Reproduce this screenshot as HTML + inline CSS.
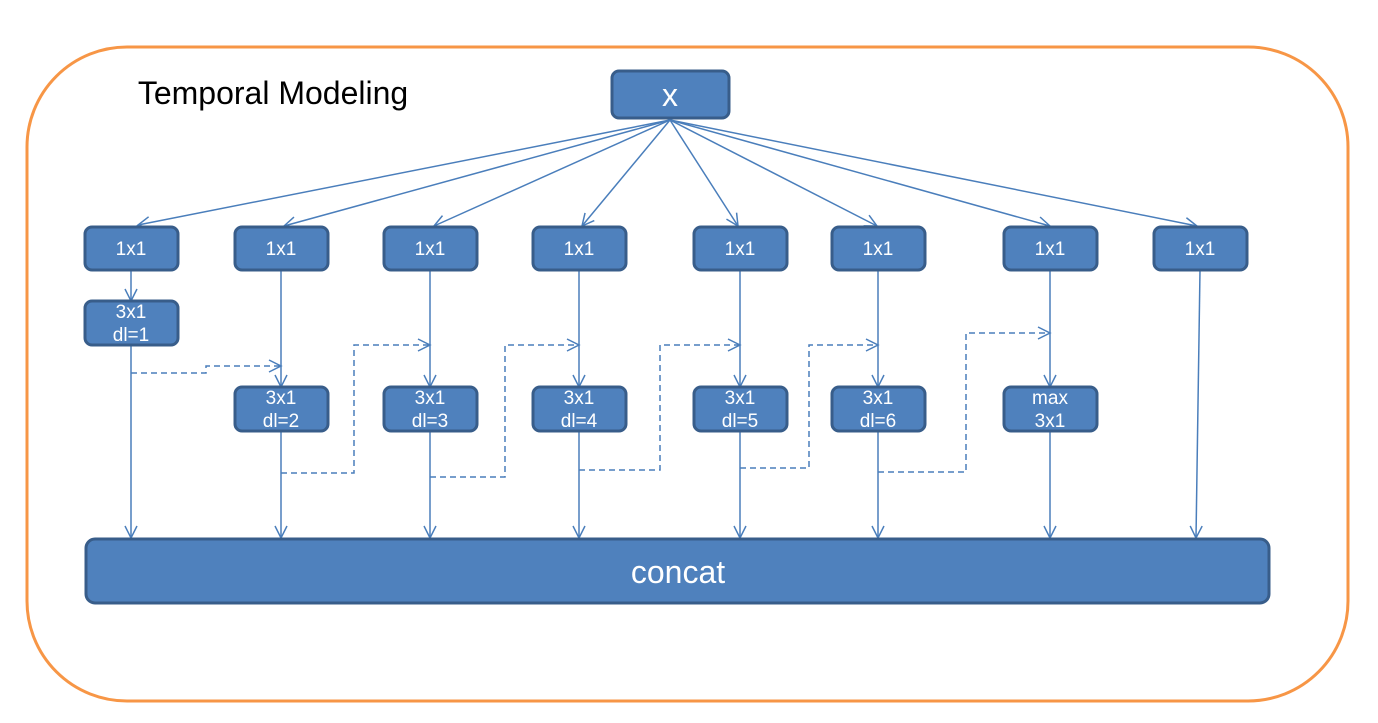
<!DOCTYPE html>
<html><head><meta charset="utf-8"><style>
html,body{margin:0;padding:0;background:#fff;}
svg{display:block;}
text{font-family:"Liberation Sans",sans-serif;fill:#fff;text-anchor:middle;}
</style></head><body>
<svg width="1378" height="723" viewBox="0 0 1378 723" xmlns="http://www.w3.org/2000/svg">
<defs>
<marker id="a" markerWidth="16" markerHeight="16" refX="14" refY="8" orient="auto" markerUnits="userSpaceOnUse">
<polyline points="2,2 14,8 2,14" fill="none" stroke="#4a7ebb" stroke-width="1.5"/>
</marker>
</defs>
<rect x="27" y="47" width="1321" height="654" rx="100" ry="100" fill="#fff" stroke="#f79646" stroke-width="3"/>
<text x="273" y="104" style="fill:#000;font-size:32px">Temporal Modeling</text>

<g stroke="#4a7ebb" stroke-width="1.5" fill="none" marker-end="url(#a)">
<line x1="670" y1="120" x2="138" y2="225"/>
<line x1="670" y1="120" x2="284" y2="226"/>
<line x1="670" y1="120" x2="434" y2="226"/>
<line x1="670" y1="120" x2="582" y2="226"/>
<line x1="670" y1="120" x2="738" y2="226"/>
<line x1="670" y1="120" x2="877" y2="226"/>
<line x1="670" y1="120" x2="1050" y2="226"/>
<line x1="670" y1="120" x2="1197" y2="226"/>

<line x1="131" y1="270" x2="131" y2="301"/>
<line x1="281" y1="270" x2="281" y2="387"/>
<line x1="430" y1="270" x2="430" y2="387"/>
<line x1="579" y1="270" x2="579" y2="387"/>
<line x1="740" y1="270" x2="740" y2="387"/>
<line x1="878" y1="270" x2="878" y2="387"/>
<line x1="1050" y1="270" x2="1050" y2="387"/>

<line x1="131" y1="345" x2="131" y2="538"/>
<line x1="281" y1="431" x2="281" y2="538"/>
<line x1="430" y1="431" x2="430" y2="538"/>
<line x1="579" y1="431" x2="579" y2="538"/>
<line x1="740" y1="431" x2="740" y2="538"/>
<line x1="878" y1="431" x2="878" y2="538"/>
<line x1="1050" y1="431" x2="1050" y2="538"/>
<line x1="1200" y1="270" x2="1196" y2="538"/>
</g>
<g stroke="#4a7ebb" stroke-width="1.5" fill="none" stroke-dasharray="6,4" marker-end="url(#a)">
<polyline points="131,373 206,373 206,366 281,366"/>
<polyline points="281,473 354,473 354,345 430,345"/>
<polyline points="430,477 505,477 505,345 579,345"/>
<polyline points="579,470 660,470 660,345 740,345"/>
<polyline points="740,468 809,468 809,345 878,345"/>
<polyline points="878,472 966,472 966,333 1050,333"/>
</g>

<g fill="#4f81bd" stroke="#385d8a" stroke-width="3">
<rect x="612" y="71" width="117" height="47" rx="7"/>
<rect x="85" y="227" width="93" height="43" rx="7"/>
<rect x="235" y="227" width="93" height="43" rx="7"/>
<rect x="384" y="227" width="93" height="43" rx="7"/>
<rect x="533" y="227" width="93" height="43" rx="7"/>
<rect x="694" y="227" width="93" height="43" rx="7"/>
<rect x="832" y="227" width="93" height="43" rx="7"/>
<rect x="1004" y="227" width="93" height="43" rx="7"/>
<rect x="1154" y="227" width="93" height="43" rx="7"/>
<rect x="85" y="301" width="93" height="44" rx="7"/>
<rect x="235" y="387" width="93" height="44" rx="7"/>
<rect x="384" y="387" width="93" height="44" rx="7"/>
<rect x="533" y="387" width="93" height="44" rx="7"/>
<rect x="694" y="387" width="93" height="44" rx="7"/>
<rect x="832" y="387" width="93" height="44" rx="7"/>
<rect x="1004" y="387" width="93" height="44" rx="7"/>
<rect x="86" y="539" width="1183" height="64" rx="9"/>
</g>

<g style="font-size:19px">
<text x="670" y="106" style="font-size:32px">x</text>
<text x="131" y="255">1x1</text>
<text x="281" y="255">1x1</text>
<text x="430" y="255">1x1</text>
<text x="579" y="255">1x1</text>
<text x="740" y="255">1x1</text>
<text x="878" y="255">1x1</text>
<text x="1050" y="255">1x1</text>
<text x="1200" y="255">1x1</text>
<text x="131" y="318">3x1</text><text x="131" y="341">dl=1</text>
<text x="281" y="404">3x1</text><text x="281" y="427">dl=2</text>
<text x="430" y="404">3x1</text><text x="430" y="427">dl=3</text>
<text x="579" y="404">3x1</text><text x="579" y="427">dl=4</text>
<text x="740" y="404">3x1</text><text x="740" y="427">dl=5</text>
<text x="878" y="404">3x1</text><text x="878" y="427">dl=6</text>
<text x="1050" y="404">max</text><text x="1050" y="427">3x1</text>
<text x="678" y="583" style="font-size:32px">concat</text>
</g>
</svg>
</body></html>
